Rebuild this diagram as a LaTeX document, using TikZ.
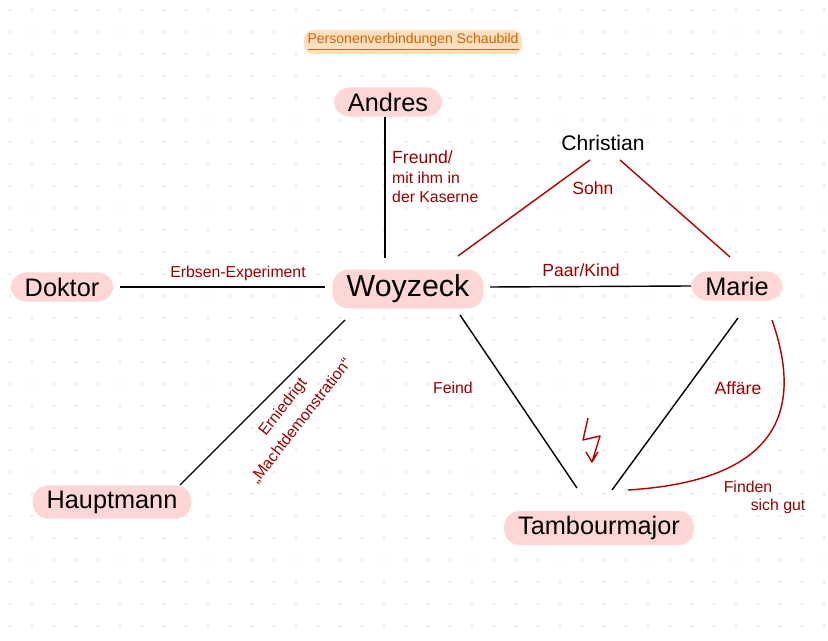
\documentclass[tikz,border=0pt]{standalone}
\usepackage{fontspec}
\setmainfont{Liberation Sans}
\begin{document}
\begin{tikzpicture}[x=0.02cm,y=-0.02cm,
 pill/.style={fill=pink!80!red!40, rounded corners=9pt, inner xsep=8pt, inner ysep=3pt, font=\Large},
 rl/.style={text=red!60!black, font=\small},
 bl/.style={line width=0.8pt},
 rline/.style={line width=0.8pt, draw=red!70!black}]
\useasboundingbox (0,0) rectangle (828,641);
\fill[white] (0,0) rectangle (828,641);
\foreach \i in {0,...,37}{\foreach \j in {0,...,28}{\fill[gray!25] (10+\i*22,10+\j*22) circle (0.6pt);}}
\node[fill=orange!25, rounded corners=5pt, text=orange!80!black, font=\footnotesize, inner sep=2pt] (title) at (413,42) {\underline{Personenverbindungen Schaubild}};
\node[pill] (andres) at (388,102) {Andres};
\node[font=\large] (christian) at (603,143) {Christian};
\node[pill] (doktor) at (62,287) {Doktor};
\node[pill, font=\LARGE] (woyzeck) at (408,289) {Woyzeck};
\node[pill] (marie) at (737,286) {Marie};
\node[pill] (haupt) at (112,502) {Hauptmann};
\node[pill] (tambour) at (599,528) {Tambourmajor};
\draw[bl] (andres.south -| 385,0) -- (385,258);
\node[rl, align=left, anchor=north west] (freund) at (386,145) {{\normalsize Freund/}\\mit ihm in\\der Kaserne};
\draw[bl] (120,287) -- (325,287);
\node[rl] (erbsen) at (238,273) {Erbsen-Experiment};
\draw[bl] (490,287) -- (marie.west);
\node[rl, font=\normalsize] (paar) at (581,270) {Paar/Kind};
\draw[rline] (458,256) -- (590,160);
\draw[rline] (620,160) -- (730,257);
\node[rl, font=\normalsize] (sohn) at (593,188) {Sohn};
\draw[bl] (345,320) -- (180,485);
\node[rl, rotate=52, align=center] (ern) at (292,414) {Erniedrigt\\[2pt]„Machtdemonstration“};
\draw[bl] (460,315) -- (577,488);
\node[rl] (feind) at (453,388) {Feind};
\draw[bl] (738,318) -- (612,490);
\node[rl, font=\normalsize] (aff) at (738,388) {Affäre};
\draw[rline] (772,320) .. controls (800,400) and (790,480) .. (628,490);
\node[rl] (finden) at (748,487) {Finden};
\node[rl] (sich) at (778,506) {sich gut};
\draw[rline, line join=round] (588,418) -- (583,440) -- (600,436) -- (592,462) (586,452) -- (592,462) -- (598,452);
\end{tikzpicture}
\end{document}
